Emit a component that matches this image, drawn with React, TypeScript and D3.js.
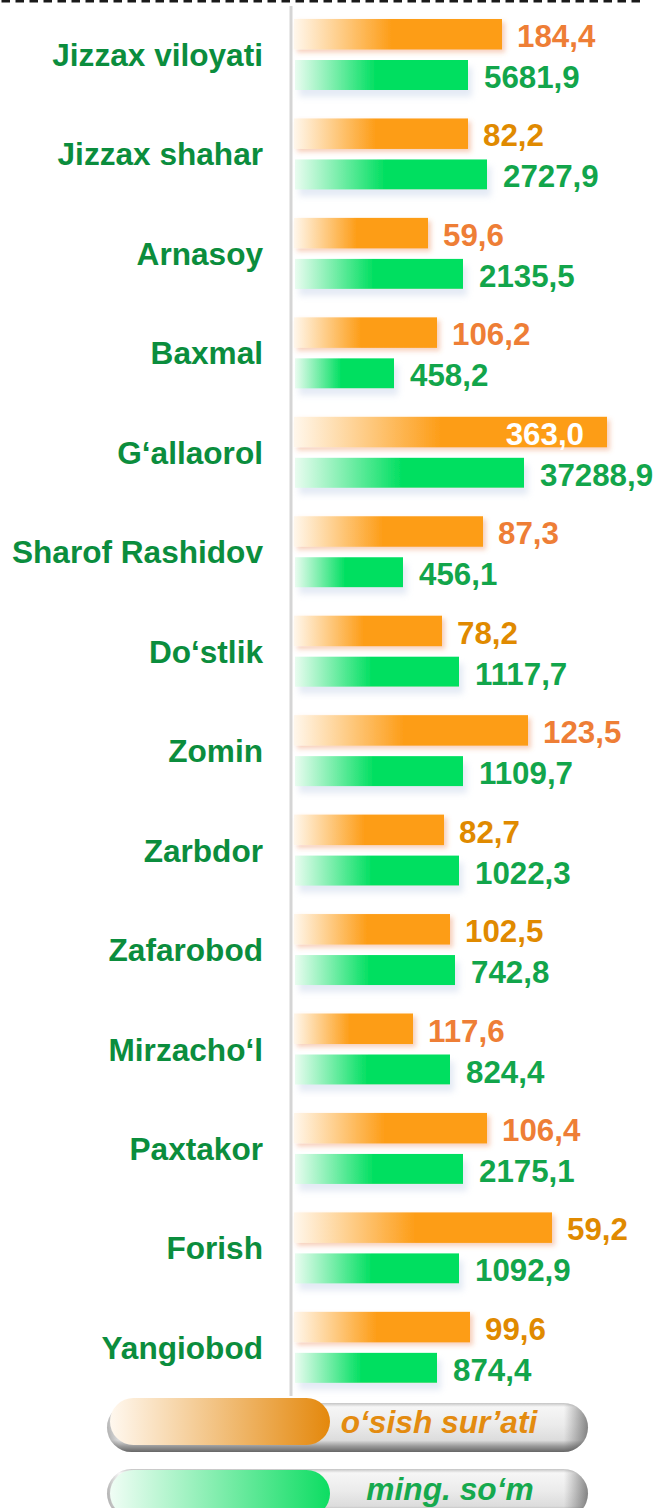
import React, { useEffect } from 'react';
import { scaleBand, scaleLinear, format } from 'd3';

// districts, top to bottom
const districts = [
  'Jizzax viloyati', 'Jizzax shahar', 'Arnasoy', 'Baxmal', 'G‘allaorol', 'Sharof Rashidov', 'Do‘stlik',
  'Zomin', 'Zarbdor', 'Zafarobod', 'Mirzacho‘l', 'Paxtakor', 'Forish', 'Yangiobod',
];

// o'sish sur'ati (growth, %)
const growthRate = [184.4, 82.2, 59.6, 106.2, 363.0, 87.3, 78.2, 123.5, 82.7, 102.5, 117.6, 106.4, 59.2, 99.6];
// ming. so'm
const amount = [5681.9, 2727.9, 2135.5, 458.2, 37288.9, 456.1, 1117.7, 1109.7, 1022.3, 742.8, 824.4, 2175.1, 1092.9, 874.4];

// bar lengths as drawn in the picture (they do not follow the labels), read in chart units
const growthBarLen = [208, 174, 134, 143, 313, 189, 148, 234, 150, 156, 119, 193, 258, 176];
const amountBarLen = [174, 193, 169, 100, 230, 109, 165, 169, 165, 161, 156, 169, 165, 143];

const legendLabels = ['o‘sish sur’ati', 'ming. so‘m'];

// label tone of the growth values (the source mixes two oranges)
const growthTone = ['r', 'd', 'r', 'r', 'w', 'r', 'd', 'r', 'd', 'd', 'r', 'r', 'd', 'd'];
const toneColor: Record<string, string> = { r: '#ee7e36', d: '#e08a00', w: '#ffffff' };

const W = 657;
const H = 1508;
const FONT = '"Liberation Sans", Arial, sans-serif';

const fmt = (v: number) => format('.1f')(v).replace('.', ',');

const App = () => {
  useEffect(() => {
    document.body.style.margin = '0';
    document.body.style.overflow = 'hidden';
  }, []);

  const y = scaleBand<string>().domain(districts).range([5, 5 + 14 * 99.45]);
  const x = scaleLinear().domain([0, 350]).range([294, 644]);
  const x0 = x(0);
  const labelW = (s: string) => s.length * 0.556 * 31 - 0.278 * 31;

  return (
    <svg width={W} height={H} style={{ position: 'absolute', left: 0, top: 0 }} fontFamily={FONT}>
      <defs>
        <linearGradient id="gOrange" x1="0" x2="1" y1="0" y2="0">
          <stop offset="0" stopColor="#fff7ec" />
          <stop offset="0.47" stopColor="#fd9d17" />
          <stop offset="1" stopColor="#fd9d17" />
        </linearGradient>
        <linearGradient id="gGreen" x1="0" x2="1" y1="0" y2="0">
          <stop offset="0" stopColor="#e9fcf0" />
          <stop offset="0.47" stopColor="#00df60" />
          <stop offset="1" stopColor="#00df60" />
        </linearGradient>
        <filter id="shOrange" x="-10%" y="-40%" width="130%" height="200%">
          <feDropShadow dx="3" dy="3" stdDeviation="2.5" floodColor="#e8763a" floodOpacity="0.35" />
        </filter>
        <filter id="shGreen" x="-10%" y="-40%" width="130%" height="220%">
          <feDropShadow dx="4" dy="7" stdDeviation="3" floodColor="#c3d0e8" floodOpacity="0.45" />
        </filter>
        <linearGradient id="tube" x1="0" x2="0" y1="0" y2="1">
          <stop offset="0" stopColor="#c4c4c4" />
          <stop offset="0.08" stopColor="#f6f6f6" />
          <stop offset="0.45" stopColor="#ebebeb" />
          <stop offset="0.76" stopColor="#dcdcdc" />
          <stop offset="0.88" stopColor="#9a9a9a" />
          <stop offset="1" stopColor="#666666" />
        </linearGradient>
        <linearGradient id="tubeEnd" x1="0" x2="1" y1="0" y2="0">
          <stop offset="0" stopColor="#505050" stopOpacity="0.35" />
          <stop offset="0.025" stopColor="#505050" stopOpacity="0" />
          <stop offset="0.95" stopColor="#505050" stopOpacity="0" />
          <stop offset="1" stopColor="#404040" stopOpacity="0.6" />
        </linearGradient>
        <linearGradient id="lgOrange" x1="0" x2="1" y1="0" y2="0">
          <stop offset="0" stopColor="#fff8ef" />
          <stop offset="1" stopColor="#e4880c" />
        </linearGradient>
        <linearGradient id="lgGreen" x1="0" x2="1" y1="0" y2="0">
          <stop offset="0" stopColor="#f0fdf5" />
          <stop offset="1" stopColor="#0ddd62" />
        </linearGradient>
      </defs>

      {/* dashed top rule */}
      <line x1={1.5} x2={641} y1={1} y2={1} stroke="#1a1a1a" strokeWidth={3} strokeDasharray="8.5 5.5" />

      {/* axis */}
      <line x1={291} x2={291} y1={6} y2={1396} stroke="#d5d5d5" strokeWidth={3} />

      {districts.map((d, i) => {
        const top = y(d) as number;
        const oTop = top + 14;
        const gTop = top + 55;
        const oEnd = x(growthBarLen[i]);
        const gEnd = x(amountBarLen[i]);
        const oLab = fmt(growthRate[i]);
        const gLab = fmt(amount[i]);
        const inside = oEnd + 16 + labelW(oLab) > W;
        return (
          <g key={d}>
            <text x={263} y={top + 50 + 11} textAnchor="end" fontSize={31.6} fontWeight="bold" fill="#0b8d3d">
              {d}
            </text>
            <rect x={x0} y={oTop} width={oEnd - x0} height={30.5} fill="url(#gOrange)" filter="url(#shOrange)" />
            <rect x={x0 + 1} y={gTop} width={gEnd - x0 - 1} height={30} fill="url(#gGreen)" filter="url(#shGreen)" />
            <text
              x={inside ? oEnd - 23 : oEnd + 15}
              y={oTop + 28}
              textAnchor={inside ? 'end' : 'start'}
              fontSize={31.3}
              fontWeight="bold"
              fill={toneColor[growthTone[i]]}
            >
              {oLab}
            </text>
            <text x={gEnd + 16} y={gTop + 28} fontSize={31.3} fontWeight="bold" fill="#12a54b">
              {gLab}
            </text>
          </g>
        );
      })}

      {/* legend */}
      {legendLabels.map((l, i) => {
        const ty = 1403 + i * 66;
        return (
          <g key={l}>
            <rect x={107} y={ty} width={481} height={49} rx={24.5} fill="url(#tube)" />
            <rect x={107} y={ty} width={481} height={49} rx={24.5} fill="url(#tubeEnd)" />
            <rect
              x={110}
              y={ty - 5 + i * 6}
              width={220}
              height={47}
              rx={23.5}
              fill={i === 0 ? 'url(#lgOrange)' : 'url(#lgGreen)'}
            />
            <text
              x={i === 0 ? 439 : 450}
              y={ty + 30 + i * 1}
              textAnchor="middle"
              fontSize={31.7}
              fontWeight="bold"
              fontStyle="italic"
              fill={i === 0 ? '#e38b10' : '#16a94e'}
            >
              {l}
            </text>
          </g>
        );
      })}
    </svg>
  );
};

export default App;
